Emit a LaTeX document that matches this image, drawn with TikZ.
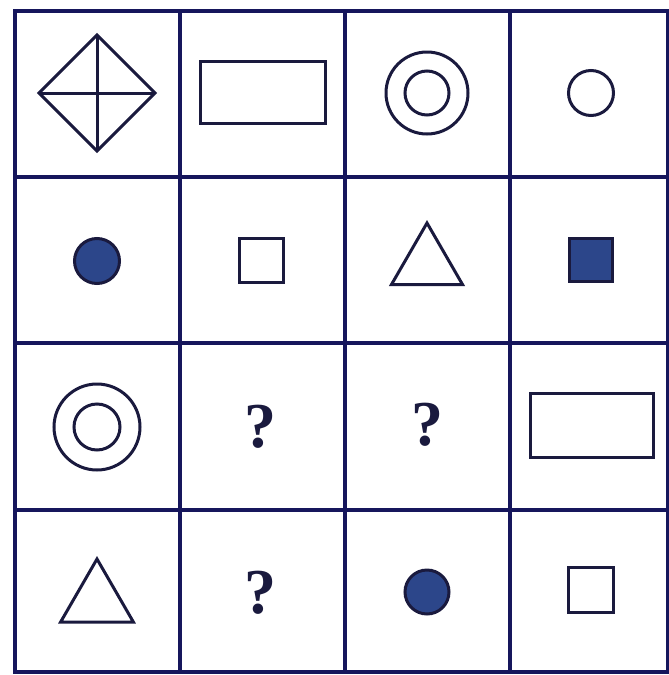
\documentclass[tikz,border=0pt]{standalone}
\usepackage{fontspec}
\setmainfont{Liberation Serif}
\usetikzlibrary{shapes.geometric}

\definecolor{gridblue}{RGB}{22,22,92}
\definecolor{inkblue}{RGB}{26,26,62}
\definecolor{dotblue}{RGB}{44,70,138}

\tikzset{
  gridline/.style={draw=gridblue, line width=3.4pt},
  figure/.style={draw=inkblue, line width=3pt, inner sep=0pt, outer sep=0pt},
  ring/.style={figure, circle, minimum size=#1},
  dot/.style={figure, circle, fill=dotblue, minimum size=#1},
  box/.style={figure, rectangle, minimum width=#1},
  tri/.style={figure, regular polygon, regular polygon sides=3, minimum size=#1},
  ask/.style={inner sep=0pt, font=\fontsize{64}{64}\selectfont\bfseries, text=inkblue}
}

\begin{document}
\begin{tikzpicture}[x=1pt, y=-1pt]
    \useasboundingbox (0,0) rectangle (669,675);

    % Grid
    \draw[gridline] (15,11) rectangle (668,672);
    \draw[gridline] (180,11) -- (180,672);
    \draw[gridline] (345,11) -- (345,672);
    \draw[gridline] (510,11) -- (510,672);
    \draw[gridline] (15,177) -- (668,177);
    \draw[gridline] (15,343) -- (668,343);
    \draw[gridline] (15,510) -- (668,510);

    % Row 1
    \node[figure, diamond, minimum width=116pt, minimum height=116pt] (r1c1) at (97,93) {};
    \draw[figure] (r1c1.north) -- (r1c1.south);
    \draw[figure] (r1c1.west) -- (r1c1.east);
    \node[box=125pt, minimum height=62pt] (r1c2) at (262.5,92) {};
    \node[ring=82pt] (r1c3) at (427,93) {};
    \node[ring=44pt] (r1c3in) at (427,93) {};
    \node[ring=45pt] (r1c4) at (591,93) {};

    % Row 2
    \node[dot=45pt] (r2c1) at (97,261) {};
    \node[box=44pt, minimum height=44pt] (r2c2) at (261,260) {};
    \node[tri=82pt] (r2c3) at (427,264) {};
    \node[box=43pt, minimum height=43pt, fill=dotblue] (r2c4) at (591,260) {};

    % Row 3
    \node[ring=86pt] (r3c1) at (97,427) {};
    \node[ring=46pt] (r3c1in) at (97,427) {};
    \node[ask] (r3c2) at (260,427) {?};
    \node[ask] (r3c3) at (427,425) {?};
    \node[box=123pt, minimum height=64pt] (r3c4) at (591.5,425) {};

    % Row 4
    \node[tri=84pt] (r4c1) at (97,601) {};
    \node[ask] (r4c2) at (260,593) {?};
    \node[dot=44pt] (r4c3) at (427,592) {};
    \node[box=45pt, minimum height=45pt] (r4c4) at (591,590) {};
\end{tikzpicture}
\end{document}
